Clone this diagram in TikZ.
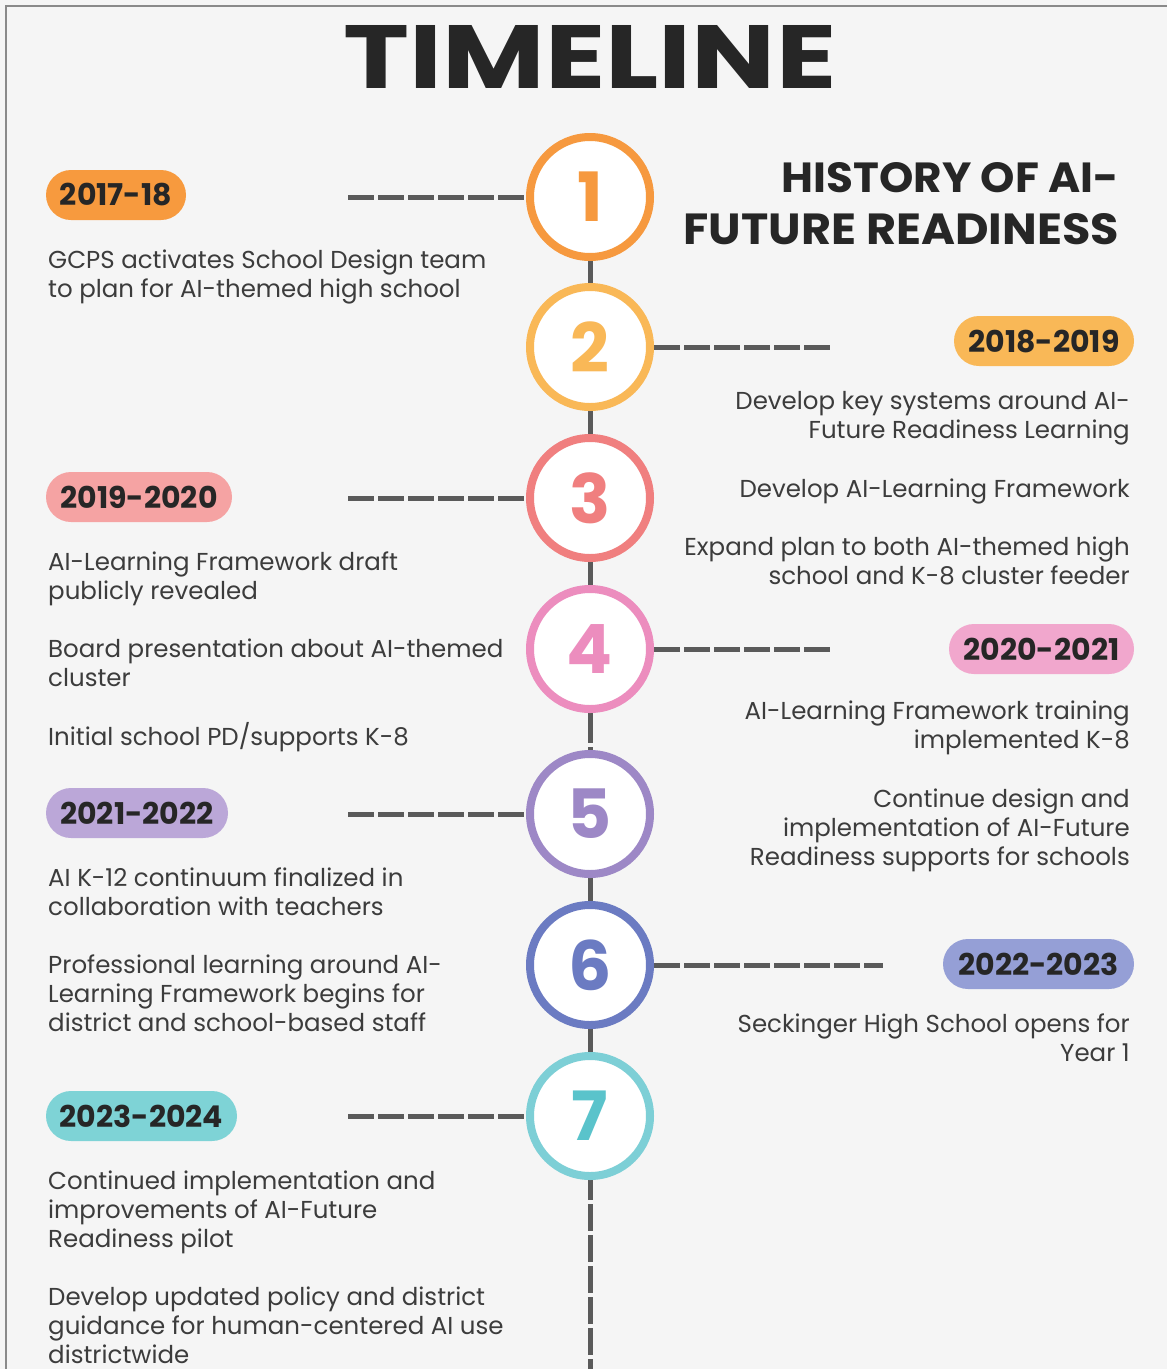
\documentclass[tikz,border=0pt]{standalone}
\usepackage{fontspec}
\setmainfont{Poppins}
\usepackage{graphicx}

% palette
\definecolor{paper}{HTML}{F5F5F5}
\definecolor{frameline}{HTML}{8A8A8A}
\definecolor{ink}{HTML}{262626}
\definecolor{body}{HTML}{3C3C3C}
\definecolor{rule}{HTML}{5A5A5A}
\definecolor{ringA}{HTML}{F6993F}
\definecolor{ringB}{HTML}{F9B857}
\definecolor{ringC}{HTML}{F07F7F}
\definecolor{ringD}{HTML}{EC8DBE}
\definecolor{ringE}{HTML}{9D88C6}
\definecolor{ringF}{HTML}{6B7BC2}
\definecolor{ringG}{HTML}{7DCFD6}
\definecolor{numG}{HTML}{5AC3CB}
\definecolor{pillA}{HTML}{F79A3E}
\definecolor{pillB}{HTML}{F9B857}
\definecolor{pillC}{HTML}{F5A3A3}
\definecolor{pillD}{HTML}{F1A7CD}
\definecolor{pillE}{HTML}{BBA7D8}
\definecolor{pillF}{HTML}{959FD6}
\definecolor{pillG}{HTML}{7ED3D6}

\pgfdeclarelayer{back}
\pgfdeclarelayer{links}
\pgfsetlayers{back,links,main}

\begin{document}
\begin{tikzpicture}[x=1pt,y=-1pt,
  stage/.style={circle, draw=#1, text=#1, line width=8pt, fill=white,
    minimum size=120pt, inner sep=0pt,
    font=\fontsize{68}{68}\selectfont\bfseries},
  yearpill/.style={fill=#1, rounded corners=25pt, minimum height=50pt,
    inner sep=0pt, text=ink, font=\fontsize{30}{30}\selectfont\bfseries},
  note/.style={inner sep=0pt, text=body, font=\fontsize{24.5}{29}\selectfont},
  % multi-line notes are placed by the baseline of their last line
  leftnote/.style={note, anchor=base west, align=left},
  rightnote/.style={note, anchor=base east, align=right},
  link/.style={draw=rule, line width=5pt, dash pattern=on 26pt off 4pt},
  spine/.style={draw=rule, line width=5pt},
  heading/.style={inner sep=0pt, text=ink}
]
\useasboundingbox (0,0) rectangle (1167,1369);
\begin{pgfonlayer}{back}
  \fill[paper] (0,0) rectangle (1167,1369);
  \draw[frameline, line width=2pt] (6,1372) -- (6,6) -- (1170,6);
\end{pgfonlayer}

% headings
\node[heading] (title) at (590,56.5)
  {\resizebox{493pt}{63pt}{\bfseries TIMELINE}};
\node[heading, anchor=east] (hist1) at (1119,178)
  {\resizebox{337pt}{30pt}{\bfseries HISTORY OF AI-}};
\node[heading, anchor=east] (hist2) at (1119,229.5)
  {\resizebox{435pt}{31pt}{\bfseries FUTURE READINESS}};

% timeline stages
\node[stage=ringA] (c1) at (590,197) {1};
\node[stage=ringB] (c2) at (590,347) {2};
\node[stage=ringC] (c3) at (590,498) {3};
\node[stage=ringD] (c4) at (590,649) {4};
\node[stage=ringE] (c5) at (590,814) {5};
\node[stage=ringF] (c6) at (590,965) {6};
\node[stage=ringG, text=numG] (c7) at (590,1116) {7};

% connector ends
\coordinate (l1) at (348,197);
\coordinate (l3) at (348,498);
\coordinate (l5) at (348,814);
\coordinate (l7) at (348,1116);
\coordinate (r2) at (831,347);
\coordinate (r4) at (831,649);
\coordinate (r6) at (883,965);
\coordinate (tail) at (590,1380);

\begin{pgfonlayer}{links}
  \draw[spine] (c1.center) -- (c4.center);
  \draw[spine, dash pattern=on 30pt off 4pt] (c4.south) -- (c5.north);
  \draw[spine] (c5.center) -- (c7.center);
  \draw[spine, dash pattern=on 27pt off 4pt, dash phase=7pt] (c7.south) -- (tail);
  \draw[link] (l1) -- (c1.west);
  \draw[link] (l3) -- (c3.west);
  \draw[link] (l5) -- (c5.west);
  \draw[link] (l7) -- (c7.west);
  \draw[link] (c2.east) -- (r2);
  \draw[link] (c4.east) -- (r4);
  \draw[link] (c6.east) -- (r6);
\end{pgfonlayer}

% year pills
\node[yearpill=pillA, minimum width=140pt] (y1) at (116,195) {2017-18};
\node[yearpill=pillB, minimum width=180pt] (y2) at (1044,341) {2018-2019};
\node[yearpill=pillC, minimum width=186pt] (y3) at (139,497) {2019-2020};
\node[yearpill=pillD, minimum width=185pt] (y4) at (1041.5,649) {2020-2021};
\node[yearpill=pillE, minimum width=182pt] (y5) at (137,813) {2021-2022};
\node[yearpill=pillF, minimum width=191pt] (y6) at (1038.5,964) {2022-2023};
\node[yearpill=pillG, minimum width=191pt] (y7) at (141.5,1116) {2023-2024};

% left column notes
\node[leftnote] (n1) at (48,297) {GCPS activates School Design team\\to plan for AI-themed high school};
\node[leftnote] (n3a) at (48,599) {AI-Learning Framework draft\\publicly revealed};
\node[leftnote] (n3b) at (48,686) {Board presentation about AI-themed\\cluster};
\node[leftnote] (n3c) at (48,745) {Initial school PD/supports K-8};
\node[leftnote] (n5a) at (48,915) {AI K-12 continuum finalized in\\collaboration with teachers};
\node[leftnote] (n5b) at (48,1031) {Professional learning around AI-\\Learning Framework begins for\\district and school-based staff};
\node[leftnote] (n7a) at (48,1247) {Continued implementation and\\improvements of AI-Future\\Readiness pilot};
\node[leftnote] (n7b) at (48,1363) {Develop updated policy and district\\guidance for human-centered AI use\\districtwide};

% right column notes
\node[rightnote] (n2a) at (1130,438) {Develop key systems around AI-\\Future Readiness Learning};
\node[rightnote] (n2b) at (1130,497) {Develop AI-Learning Framework};
\node[rightnote] (n2c) at (1130,584) {Expand plan to both AI-themed high\\school and K-8 cluster feeder};
\node[rightnote] (n4a) at (1130,748) {AI-Learning Framework training\\implemented K-8};
\node[rightnote] (n4b) at (1130,865) {Continue design and\\implementation of AI-Future\\Readiness supports for schools};
\node[rightnote] (n6) at (1130,1061) {Seckinger High School opens for\\Year 1};
\end{tikzpicture}
\end{document}
